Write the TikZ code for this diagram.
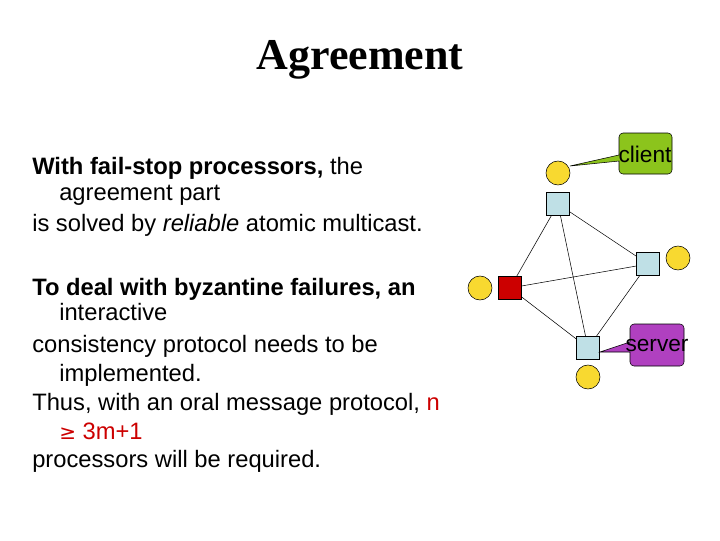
\documentclass[tikz,border=0pt]{standalone}
\usepackage{fontspec}
\setmainfont{Liberation Sans}
\newfontfamily\titlefont{Liberation Serif}
\newfontfamily\symfont{DejaVu Sans}
\definecolor{gold}{HTML}{F8D930}
\definecolor{cgreen}{HTML}{8CC41C}
\definecolor{spurple}{HTML}{B040C0}
\definecolor{pblue}{HTML}{BFE0E6}
\begin{document}
\begin{tikzpicture}[x=0.75pt,y=-0.75pt,
  txt/.style={anchor=base west,inner sep=0,font=\fontsize{17.8}{20}\selectfont},
  proc/.style={draw,fill=pblue,minimum size=17pt,inner sep=0},
  bad/.style={proc,fill=red!80!black},
  cl/.style={draw,fill=gold,circle,minimum size=18pt,inner sep=0},
  edge/.style={thin}]
\useasboundingbox (0,0) rectangle (720,540);
\node[font=\titlefont\bfseries\fontsize{33}{38}\selectfont] (title) at (360,60) {Agreement};
\node[txt] (l1) at (32,174) {\textbf{With fail-stop processors,} the};
\node[txt] (l2) at (59,200) {agreement part};
\node[txt] (l3) at (32,231) {is solved by \textit{reliable} atomic multicast.};
\node[txt] (l4) at (32,295) {\textbf{To deal with byzantine failures, an}};
\node[txt] (l5) at (59,320) {interactive};
\node[txt] (l6) at (32,352) {consistency protocol needs to be};
\node[txt] (l7) at (59,381) {implemented.};
\node[txt] (l8) at (32,410) {Thus, with an oral message protocol, \textcolor{red!80!black}{n}};
\node[txt] (l9) at (59,439) {\textcolor{red!80!black}{{\symfont\fontsize{15}{18}\selectfont ≥} 3m+1}};
\node[txt] (l10) at (32,467) {processors will be required.};
\node[proc] (pt) at (558,204) {};
\node[proc] (pr) at (648,264) {};
\node[bad] (pl) at (510,288) {};
\node[proc] (pb) at (588,348) {};
\draw[edge] (pt)--(pr) (pt)--(pl) (pt)--(pb) (pr)--(pl) (pr)--(pb) (pl)--(pb);
\node[cl] (ct) at (558,173) {};
\node[cl] (cr) at (678,258) {};
\node[cl] (cl) at (480,288) {};
\node[cl] (cb) at (588,377) {};
\coordinate (ctp) at (570,166);
\coordinate (pbp) at (600,352);
\draw[fill=cgreen] (ctp) -- (619,155) -- (619,137) to[out=90,in=180] (623,133) -- (668,133) to[out=0,in=90] (672,137) -- (672,170) to[out=-90,in=0] (668,174) -- (623,174) to[out=180,in=-90] (619,170) -- (619,161) -- cycle;
\node[font=\fontsize{17}{20}\selectfont,inner sep=0] (client) at (645,154) {client};
\draw[fill=spurple] (pbp) -- (630,342) -- (630,328) to[out=90,in=180] (634,324) -- (680,324) to[out=0,in=90] (684,328) -- (684,362) to[out=-90,in=0] (680,366) -- (634,366) to[out=180,in=-90] (630,362) -- (630,352) -- cycle;
\node[font=\fontsize{17}{20}\selectfont,inner sep=0] (server) at (657,346) {server};
\end{tikzpicture}
\end{document}
